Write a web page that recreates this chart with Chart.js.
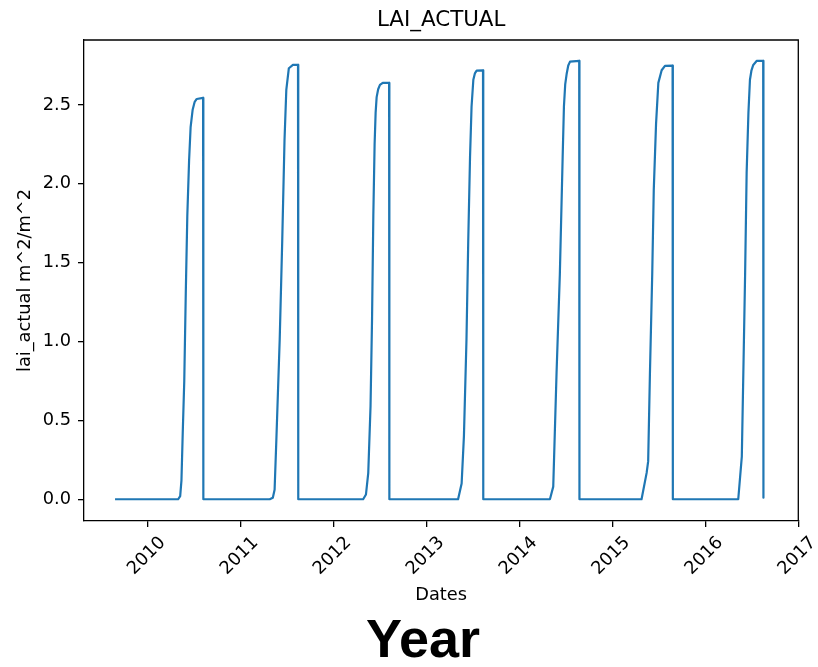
<!DOCTYPE html>
<html>
<head>
<meta charset="utf-8">
<title>LAI_ACTUAL</title>
<script src="https://cdn.jsdelivr.net/npm/chart.js@4.4.1/dist/chart.umd.min.js"></script>
<style>
  html, body { margin: 0; padding: 0; background: #ffffff; }
  canvas { display: block; }
</style>
</head>
<body>
<canvas id="lai" width="818" height="667"></canvas>
<script>
// Simulated leaf area index, one growing season per year
const dates = [
  '2009-08-26',
  // 2010 season
  '2010-05-01','2010-05-09','2010-05-14','2010-05-19','2010-05-25','2010-05-31','2010-06-06',
  '2010-06-13','2010-06-19','2010-06-27','2010-07-05','2010-07-13','2010-08-07','2010-08-08',
  // 2011 season
  '2011-04-26','2011-05-08','2011-05-15','2011-05-22','2011-06-04','2011-06-14','2011-06-23',
  '2011-06-30','2011-07-10','2011-07-26','2011-08-15','2011-08-16',
  // 2012 season
  '2012-04-27','2012-05-08','2012-05-17','2012-05-26','2012-06-01','2012-06-06','2012-06-11',
  '2012-06-15','2012-06-19','2012-06-25','2012-07-02','2012-07-13','2012-08-07','2012-08-08',
  // 2013 season
  '2013-05-05','2013-05-19','2013-05-28','2013-06-07','2013-06-14','2013-06-21','2013-06-27',
  '2013-07-04','2013-07-10','2013-07-17','2013-08-11','2013-08-12',
  // 2014 season
  '2014-05-01','2014-05-14','2014-05-27','2014-06-09','2014-06-20','2014-06-25','2014-06-30',
  '2014-07-06','2014-07-12','2014-07-19','2014-08-24','2014-08-25',
  // 2015 season
  '2015-04-26','2015-05-16','2015-05-22','2015-05-29','2015-06-07','2015-06-13','2015-06-22',
  '2015-07-01','2015-07-14','2015-07-27','2015-08-26','2015-08-27',
  // 2016 season
  '2016-05-10','2016-05-24','2016-05-30','2016-06-06','2016-06-12','2016-06-19','2016-06-25',
  '2016-07-01','2016-07-08','2016-07-22','2016-08-16','2016-08-17'
];

const laiActual = [
  0,
  0, 0.02, 0.12, 0.42, 0.75, 1.31, 1.80, 2.15, 2.36, 2.47, 2.52, 2.538, 2.545, 0,
  0, 0.01, 0.06, 0.38, 1.01, 1.64, 2.28, 2.595, 2.733, 2.754, 2.755, 0,
  0, 0.03, 0.165, 0.59, 1.15, 1.80, 2.25, 2.45, 2.55, 2.60, 2.627, 2.64, 2.64, 0,
  0, 0.10, 0.40, 1.01, 1.64, 2.17, 2.49, 2.66, 2.70, 2.718, 2.72, 0,
  0, 0.08, 0.80, 1.43, 2.17, 2.49, 2.63, 2.70, 2.75, 2.775, 2.78, 0,
  0, 0.167, 0.24, 0.80, 1.43, 1.96, 2.38, 2.64, 2.72, 2.748, 2.75, 0,
  0, 0.27, 0.80, 1.43, 2.07, 2.45, 2.66, 2.72, 2.754, 2.78, 2.78, 0.01
];

const tickYears = [2010, 2011, 2012, 2013, 2014, 2015, 2016, 2017];
const yTickStep = 0.5;

const chartTitle = 'LAI_ACTUAL';
const xAxisTitle = 'Dates';
const yAxisTitle = 'lai_actual m^2/m^2';
const footTitle = 'Year';

const xRange = ['2009-04-26', '2017-01-01'];
const yRange = [-0.138, 2.912];

const DAY_MS = 86400000;
const toDay = s => Date.parse(s + 'T00:00:00Z') / DAY_MS;

const points = dates.map((d, i) => ({ x: toDay(d), y: laiActual[i] }));

const INK = '#000000';
const LINE = '#1f77b4';
const FONT = '"DejaVu Sans", "Liberation Sans", sans-serif';

Chart.defaults.font.family = FONT;

// Title, rotated year labels, axis titles and the closing spines
const decorations = {
  id: 'decorations',
  afterDraw(chart) {
    const { ctx, chartArea: a, scales: { x } } = chart;
    const cx = (a.left + a.right) / 2;
    ctx.save();

    // top and right spines
    ctx.strokeStyle = INK;
    ctx.lineWidth = 1.3;
    ctx.beginPath();
    ctx.moveTo(a.left, a.top);
    ctx.lineTo(a.right, a.top);
    ctx.lineTo(a.right, a.bottom);
    ctx.stroke();

    ctx.fillStyle = INK;

    // chart title
    ctx.font = '21.4px ' + FONT;
    ctx.textAlign = 'center';
    ctx.textBaseline = 'alphabetic';
    ctx.fillText(chartTitle, cx, a.top - 14);

    // year tick labels, rotated 45 degrees and centred under each tick
    ctx.font = '17.8px ' + FONT;
    ctx.textBaseline = 'middle';
    x.ticks.forEach(t => {
      const px = x.getPixelForValue(t.value);
      ctx.save();
      ctx.translate(px - 1, a.bottom + 35);
      ctx.rotate(-Math.PI / 4);
      ctx.fillText(String(new Date(t.value * DAY_MS).getUTCFullYear()), 0, 0);
      ctx.restore();
    });

    // x axis title
    ctx.textBaseline = 'alphabetic';
    ctx.fillText(xAxisTitle, cx, a.bottom + 79);

    // y axis title
    ctx.save();
    ctx.translate(30, (a.top + a.bottom) / 2);
    ctx.rotate(-Math.PI / 2);
    ctx.fillText(yAxisTitle, 0, 0);
    ctx.restore();

    // caption under the figure
    ctx.font = 'bold 54px "Liberation Sans", Arial, sans-serif';
    ctx.fillText(footTitle, 423, 657);

    ctx.restore();
  }
};

const axisGrid = {
  display: true,
  drawOnChartArea: false,
  drawTicks: true,
  tickLength: 6,
  tickColor: INK,
  tickWidth: 1.3,
  color: INK,
  lineWidth: 1.3
};
const axisBorder = { display: true, color: INK, width: 1.3 };

new Chart(document.getElementById('lai'), {
  type: 'line',
  data: {
    datasets: [{
      label: 'lai_actual',
      data: points,
      borderColor: LINE,
      borderWidth: 2.2,
      borderJoinStyle: 'round',
      pointRadius: 0,
      tension: 0,
      fill: false
    }]
  },
  options: {
    responsive: false,
    animation: false,
    devicePixelRatio: 1,
    layout: { padding: { top: 40, right: 19.7, left: 0, bottom: 0 } },
    plugins: {
      legend: { display: false },
      title: { display: false },
      tooltip: { enabled: false }
    },
    scales: {
      x: {
        type: 'linear',
        min: toDay(xRange[0]),
        max: toDay(xRange[1]),
        afterFit: s => { s.height = 146; },
        afterBuildTicks: s => {
          s.ticks = tickYears.map(y => ({ value: toDay(y + '-01-01') }));
        },
        ticks: { display: false },
        grid: axisGrid,
        border: axisBorder
      },
      y: {
        type: 'linear',
        min: yRange[0],
        max: yRange[1],
        afterFit: s => { s.width = 84; },
        ticks: {
          stepSize: yTickStep,
          includeBounds: false,
          padding: 7,
          color: INK,
          font: { size: 17.8, family: FONT },
          callback: v => Number(v).toFixed(1)
        },
        grid: axisGrid,
        border: axisBorder
      }
    }
  },
  plugins: [decorations]
});
</script>
</body>
</html>
